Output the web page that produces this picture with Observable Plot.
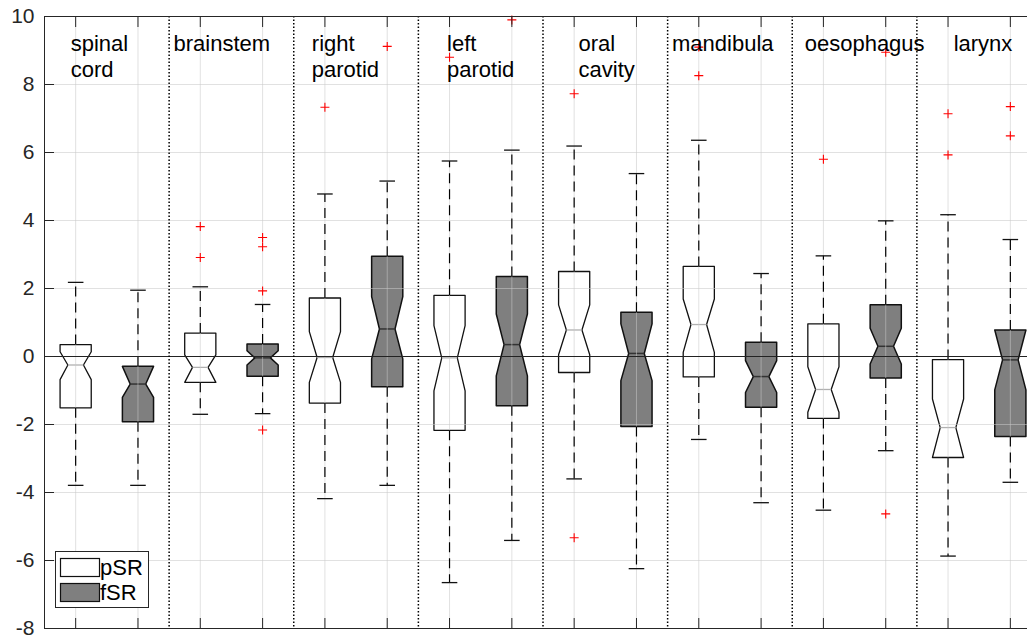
<!DOCTYPE html>
<html><head><meta charset="utf-8">
<script src="https://cdn.jsdelivr.net/npm/d3@7"></script>
<script src="https://cdn.jsdelivr.net/npm/@observablehq/plot@0.6"></script>
<style>html,body{margin:0;padding:0;overflow:hidden;background:#fff}</style>
</head><body><div id="chart"></div>
<script>
// ---- data ----
const groups = ["spinal\ncord","brainstem","right\nparotid","left\nparotid","oral\ncavity","mandibula","oesophagus","larynx"];
const series = ["pSR","fSR"];
// 16 boxes: for each group, pSR then fSR
const whiskerHigh = [2.18, 1.95, 2.05, 1.53, 4.78, 5.16, 5.75, 6.07, 6.19, 5.38, 6.36, 2.44, 2.96, 3.99, 4.17, 3.44];
const quart3      = [0.35,-0.29, 0.69, 0.37, 1.72, 2.95, 1.80, 2.35, 2.50, 1.30, 2.65, 0.42, 0.96, 1.52,-0.09, 0.78];
const notchHigh   = [0.14,-0.29, 0.05, 0.17, 0.73, 1.76, 0.91, 1.25, 1.52, 0.96, 1.69,-0.12,-0.30, 0.83,-1.25, 0.78];
const medians     = [-0.25,-0.81,-0.32,-0.04,-0.03, 0.81,-0.04, 0.35, 0.78, 0.09, 0.94,-0.59,-0.97, 0.30,-2.09,-0.10];
const notchLow    = [-0.68,-1.20,-0.76,-0.25,-0.76,-0.07,-1.01,-0.57, 0.05,-0.71, 0.12,-1.06,-1.64,-0.22,-2.97,-0.98];
const quart1      = [-1.51,-1.92,-0.76,-0.58,-1.37,-0.89,-2.17,-1.45,-0.47,-2.06,-0.60,-1.49,-1.82,-0.63,-2.97,-2.35];
const whiskerLow  = [-3.79,-3.79,-1.70,-1.68,-4.18,-3.79,-6.65,-5.41,-3.60,-6.24,-2.44,-4.30,-4.52,-2.77,-5.87,-3.70];
// outliers: [box number (1..16), value]
const outliers = [
  [3,3.82],[3,2.91],
  [4,3.50],[4,3.23],[4,1.93],[4,-2.16],
  [5,7.33],[6,9.12],[7,8.80],[8,9.90],
  [9,7.73],[9,-5.33],
  [11,8.26],[11,9.10],
  [13,5.80],[14,8.95],[14,-4.63],
  [15,7.14],[15,5.93],[16,7.35],[16,6.49]
];
const yTicks = [-8,-6,-4,-2,0,2,4,6,8,10];
// label anchor (box-position units) for each group name
const labelX = [0.92, 2.57, 4.79, 6.96, 9.07, 10.57, 12.70, 15.09];

// ---- derived tables ----
const boxes = d3.range(16).map(i => ({
  id: i, pos: i + 1, series: series[i % 2], group: groups[Math.floor(i / 2)],
  wHi: whiskerHigh[i], q3: quart3[i], nHi: notchHigh[i], med: medians[i],
  nLo: notchLow[i], q1: quart1[i], wLo: whiskerLow[i]
}));
const hw = 0.25; // half box width
function outline(b) {
  const x = b.pos;
  return [
    [x - hw, b.q3], [x + hw, b.q3], [x + hw, b.nHi], [x + hw / 2, b.med], [x + hw, b.nLo],
    [x + hw, b.q1], [x - hw, b.q1], [x - hw, b.nLo], [x - hw / 2, b.med], [x - hw, b.nHi]
  ].map(([px, py]) => ({id: b.id, series: b.series, x: px, y: py}));
}
const polyP = boxes.filter(b => b.series === "pSR").flatMap(outline);
const polyF = boxes.filter(b => b.series === "fSR").flatMap(outline);
const outData = outliers.map(([b, v]) => ({pos: b, v}));
const separators = d3.range(1, 8).map(k => 2 * k + 0.5);
const labels = groups.map((g, i) => ({text: g, x: labelX[i]}));

const plusSymbol = {draw(ctx) { const r = 4.5; ctx.moveTo(-r, 0); ctx.lineTo(r, 0); ctx.moveTo(0, -r); ctx.lineTo(0, r); }};
const ink = "#262626";

const chart = Plot.plot({
  width: 1027, height: 636,
  marginTop: 16, marginBottom: 8, marginLeft: 44, marginRight: 0,
  style: {fontFamily: "'Liberation Sans', Arial, Helvetica, sans-serif", background: "white", color: ink},
  x: {domain: [0.5, 16.5], range: [44, 1041]},
  y: {domain: [-8, 10]},
  marks: [
    // notched boxes
    Plot.line(polyP, {x: "x", y: "y", z: "id", curve: "linear-closed", fill: "white", stroke: "#111", strokeWidth: 1.3}),
    Plot.line(polyF, {x: "x", y: "y", z: "id", curve: "linear-closed", fill: "#7f7f7f", stroke: "#111", strokeWidth: 1.5}),
    // medians
    Plot.link(boxes.filter(d => d.series === "pSR"), {x1: d => d.pos - hw / 2, x2: d => d.pos + hw / 2, y1: "med", y2: "med", stroke: "#b0b0b0", strokeWidth: 1.3}),
    Plot.link(boxes.filter(d => d.series === "fSR"), {x1: d => d.pos - hw / 2, x2: d => d.pos + hw / 2, y1: "med", y2: "med", stroke: "#333", strokeWidth: 1.5}),
    // grid (drawn over the boxes, like MATLAB layer top)
    Plot.ruleX(boxes, {x: "pos", stroke: "#c8c8c8", strokeOpacity: 0.55, strokeWidth: 1}),
    Plot.ruleY(yTicks, {stroke: "#c8c8c8", strokeOpacity: 0.55, strokeWidth: 1}),
    // whiskers
    Plot.link(boxes, {x1: "pos", x2: "pos", y1: "q3", y2: "wHi", stroke: "#000", strokeWidth: 1.2, strokeDasharray: "10,6"}),
    Plot.link(boxes, {x1: "pos", x2: "pos", y1: "q1", y2: "wLo", stroke: "#000", strokeWidth: 1.2, strokeDasharray: "10,6"}),
    Plot.link(boxes, {x1: d => d.pos - hw / 2, x2: d => d.pos + hw / 2, y1: "wHi", y2: "wHi", stroke: "#111", strokeWidth: 1.3}),
    Plot.link(boxes, {x1: d => d.pos - hw / 2, x2: d => d.pos + hw / 2, y1: "wLo", y2: "wLo", stroke: "#111", strokeWidth: 1.3}),
    Plot.ruleY([0], {stroke: "#222", strokeWidth: 1}),
    Plot.ruleX(separators, {stroke: "#000", strokeWidth: 1.5, strokeDasharray: "1.5,2"}),
    // outliers
    Plot.dot(outData, {x: "pos", y: "v", symbol: plusSymbol, stroke: "red", fill: "none", strokeWidth: 1.1}),
    // group names
    Plot.text(labels, {x: "x", frameAnchor: "top", dy: 15, text: "text", textAnchor: "start", lineAnchor: "top", lineHeight: 1.22, fontSize: 22, fill: "black"}),
    // frame and axes
    Plot.frame({stroke: ink, strokeWidth: 1}),
    Plot.axisY({ticks: yTicks, tickSize: 10, dx: 10, text: null, stroke: ink}),
    Plot.axisY({ticks: yTicks, tickSize: 0, tickPadding: 10, fontSize: 21, tickFormat: d => String(d), label: null, fill: ink}),
    Plot.axisX({anchor: "bottom", ticks: d3.range(1, 17), tickSize: 10, dy: -10, text: null, label: null, stroke: ink}),
    Plot.axisX({anchor: "top", ticks: d3.range(1, 17), tickSize: 10, dy: 10, text: null, label: null, stroke: ink})
  ]
});
document.getElementById("chart").appendChild(chart);

// legend (pSR / fSR)
const svg = d3.select(chart.tagName.toLowerCase() === "svg" ? chart : chart.querySelector("svg"));
const lg = svg.append("g")
  .attr("font-family", "'Liberation Sans', Arial, Helvetica, sans-serif")
  .attr("font-size", 22).attr("text-anchor", "start");
lg.append("rect").attr("x", 55.5).attr("y", 551.5).attr("width", 93).attr("height", 56).attr("fill", "white").attr("stroke", ink);
series.forEach((s, i) => {
  lg.append("rect").attr("x", 60.5).attr("y", 558.5 + i * 25).attr("width", 39).attr("height", 18)
    .attr("fill", i === 0 ? "white" : "#7f7f7f").attr("stroke", "#111").attr("stroke-width", 1.2);
  lg.append("text").attr("x", 100).attr("y", 567.5 + i * 25).attr("dy", "0.36em")
    .attr("text-anchor", "start").attr("fill", "black").text(s);
});
</script>
</body></html>
